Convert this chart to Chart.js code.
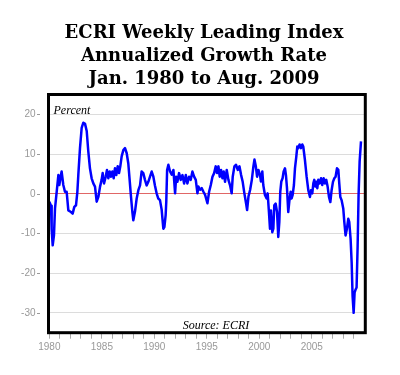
<!DOCTYPE html>
<html>
<head>
<meta charset="utf-8">
<script src="https://cdn.jsdelivr.net/npm/chart.js@4.4.0/dist/chart.umd.min.js"></script>
<style>
  body { margin: 0; background: #fff; }
</style>
</head>
<body>
<canvas id="ecriChart" width="400" height="375"></canvas>
<script>
// ECRI weekly leading index, annualized growth (%)
const years = [
  1980.00, 1980.06, 1980.16, 1980.22, 1980.32, 1980.44, 1980.54, 1980.70, 1980.86, 1980.95,
  1981.05, 1981.17, 1981.33, 1981.49, 1981.65, 1981.81, 1982.06, 1982.22, 1982.38, 1982.54,
  1982.67, 1982.76, 1982.92, 1983.08, 1983.24, 1983.40, 1983.56, 1983.71, 1983.87, 1984.03,
  1984.19, 1984.35, 1984.51, 1984.67, 1984.83, 1984.98, 1985.08, 1985.21, 1985.37, 1985.49,
  1985.62, 1985.75, 1985.87, 1986.00, 1986.13, 1986.25, 1986.38, 1986.51, 1986.64, 1986.76,
  1986.89, 1987.05, 1987.21, 1987.37, 1987.52, 1987.65, 1987.78, 1987.91, 1988.00, 1988.16,
  1988.32, 1988.48, 1988.64, 1988.79, 1988.95, 1989.11, 1989.27, 1989.43, 1989.59, 1989.75,
  1989.91, 1990.06, 1990.22, 1990.38, 1990.54, 1990.70, 1990.86, 1990.96, 1991.08, 1991.14,
  1991.22, 1991.34, 1991.50, 1991.66, 1991.82, 1991.98, 1992.08, 1992.20, 1992.36, 1992.52,
  1992.68, 1992.84, 1993.00, 1993.15, 1993.31, 1993.47, 1993.63, 1993.79, 1993.95, 1994.11,
  1994.20, 1994.36, 1994.52, 1994.68, 1994.84, 1995.06, 1995.22, 1995.38, 1995.54, 1995.70,
  1995.85, 1995.98, 1996.11, 1996.23, 1996.36, 1996.49, 1996.61, 1996.74, 1996.90, 1997.06,
  1997.21, 1997.37, 1997.47, 1997.63, 1997.79, 1997.95, 1998.11, 1998.27, 1998.42, 1998.58,
  1998.74, 1998.84, 1998.97, 1999.13, 1999.29, 1999.44, 1999.54, 1999.67, 1999.79, 1999.92,
  2000.07, 2000.16, 2000.29, 2000.38, 2000.54, 2000.70, 2000.80, 2000.92, 2001.02, 2001.11,
  2001.24, 2001.34, 2001.43, 2001.56, 2001.69, 2001.81, 2001.91, 2002.00, 2002.10, 2002.22,
  2002.32, 2002.45, 2002.54, 2002.64, 2002.76, 2002.86, 2002.99, 2003.08, 2003.18, 2003.30,
  2003.40, 2003.53, 2003.62, 2003.72, 2003.84, 2003.97, 2004.10, 2004.19, 2004.35, 2004.51,
  2004.67, 2004.83, 2004.92, 2005.05, 2005.15, 2005.24, 2005.34, 2005.43, 2005.53, 2005.62,
  2005.75, 2005.88, 2006.00, 2006.13, 2006.26, 2006.38, 2006.51, 2006.64, 2006.77, 2006.89,
  2007.02, 2007.15, 2007.27, 2007.40, 2007.53, 2007.62, 2007.72, 2007.84, 2008.00, 2008.10,
  2008.22, 2008.35, 2008.48, 2008.57, 2008.70, 2008.80, 2008.89, 2008.99, 2009.08, 2009.18,
  2009.27, 2009.37, 2009.46, 2009.56, 2009.69
];
const growth = [
  -2, -2, -3, -9, -13, -10.5, -3.7, 0.5, 4.7, 2.2,
  3.9, 5.6, 2.2, 0.5, 0.5, -4.2, -4.6, -5, -3.3, -2.9,
  0.5, 4.7, 11.5, 16.6, 17.9, 17.6, 15.8, 10.7, 6.4, 3.9,
  2.6, 1.8, -2.0, -0.8, 1.8, 3.5, 5.2, 2.6, 4.3, 6.0,
  3.9, 5.6, 4.3, 5.6, 3.9, 6.4, 4.7, 6.9, 5.2, 6.9,
  9.4, 11.0, 11.5, 10.2, 7.7, 3.5, -0.8, -4.6, -6.7, -4.5,
  -1.2, 0.9, 2.1, 5.6, 5.2, 3.5, 2.1, 3.0, 4.3, 5.6,
  4.3, 2.1, 0.1, -1.2, -1.6, -4.0, -8.8, -8.4, -5.4, -2.0,
  6.0, 7.3, 5.6, 4.8, 6.0, 0.1, 4.3, 3.0, 5.2, 3.5,
  4.7, 2.6, 4.7, 2.6, 4.3, 3.5, 5.6, 4.3, 3.5, 0.1,
  1.8, 1.0, 1.4, 0.5, -0.3, -2.4, 0.5, 2.2, 4.3, 5.2,
  6.9, 5.2, 6.9, 4.3, 6.0, 3.9, 5.6, 3.0, 6.0, 3.5,
  2.2, 0.1, 4.3, 6.9, 7.3, 6.0, 6.9, 4.7, 3.0, 0.1,
  -2.4, -4.1, -0.7, 1.0, 3.5, 6.9, 8.6, 6.9, 4.3, 6.0,
  4.7, 3.1, 5.6, 2.2, -0.3, -1.2, 0.1, -4.6, -8.8, -4.2,
  -9.7, -8.8, -2.9, -2.5, -4.6, -10.9, -7.1, 0.5, 3.1, 3.9,
  5.6, 6.4, 4.7, 1.4, -4.6, -2, 0.5, -1.2, -0.3, 2.2,
  6.4, 9.4, 11.9, 11.5, 12.4, 11.5, 12.4, 11.9, 8.5, 4.3,
  0.9, -0.8, 0.9, 0.1, 2.6, 3.5, 1.8, 3.0, 1.4, 3.5,
  2.6, 3.9, 2.2, 3.9, 2.6, 3.5, 1.8, -0.8, -2.1, 0.9,
  3.0, 3.9, 4.3, 6.4, 6.0, 2.6, -0.8, -1.6, -3.7, -7.1,
  -10.5, -8.8, -6.3, -7.1, -11.4, -17.3, -25.8, -30, -24.9, -24.1,
  -23.6, -13.1, -0.3, 8.1, 13.2
];

const yTicks = [-30, -20, -10, 0, 10, 20];
const xTickYears = [];
for (let y = 1980; y <= 2009; y++) xTickYears.push(y);

const titleLines = ['ECRI Weekly Leading Index', 'Annualized Growth Rate', 'Jan. 1980 to Aug. 2009'];
const unitLabel = 'Percent';
const sourceLabel = 'Source: ECRI';

// title, frame, little y tick dashes and the two italic notes
const framePlugin = {
  id: 'frame',
  afterDatasetsDraw(chart) {
    const { ctx, chartArea: a, scales } = chart;
    ctx.save();
    ctx.fillStyle = '#000';
    ctx.font = 'bold 18px "DejaVu Serif"';
    ctx.textAlign = 'center';
    ctx.textBaseline = 'alphabetic';
    [37.5, 61, 84].forEach((by, i) => ctx.fillText(titleLines[i], 204, by));

    ctx.strokeStyle = '#999';
    ctx.lineWidth = 1;
    yTicks.forEach(v => {
      const py = Math.round(scales.y.getPixelForValue(v)) + 0.5;
      ctx.beginPath();
      ctx.moveTo(37, py);
      ctx.lineTo(40, py);
      ctx.stroke();
    });
    ctx.strokeStyle = '#000';
    ctx.lineWidth = 3;
    ctx.strokeRect(a.left, a.top, a.right - a.left, a.bottom - a.top);

    ctx.font = 'italic 12px "Liberation Serif"';
    ctx.textBaseline = 'middle';
    ctx.textAlign = 'left';
    ctx.fillText(unitLabel, a.left + 5, a.top + 16);
    ctx.textAlign = 'center';
    ctx.fillText(sourceLabel, 216, a.bottom - 7);
    ctx.restore();
  }
};

new Chart(document.getElementById('ecriChart'), {
  type: 'line',
  data: {
    datasets: [{
      data: years.map((x, i) => ({ x: x, y: growth[i] })),
      borderColor: '#0000ff',
      borderWidth: 2.5,
      borderJoinStyle: 'round',
      pointRadius: 0,
      tension: 0,
      fill: false
    }]
  },
  options: {
    responsive: false,
    animation: false,
    layout: { padding: { left: 0, right: 34.7, top: 94.5, bottom: 0 } },
    plugins: {
      legend: { display: false },
      tooltip: { enabled: false },
      title: { display: false }
    },
    scales: {
      x: {
        type: 'linear',
        min: 1979.92,
        max: 2010.1,
        afterBuildTicks: s => { s.ticks = xTickYears.map(v => ({ value: v })); },
        afterFit: s => { s.height = 42.3; },
        ticks: {
          autoSkip: false,
          maxRotation: 0,
          padding: 3,
          color: '#999',
          font: { family: '"Liberation Sans"', size: 10 },
          callback: v => (Math.round(v) % 5 === 0 ? String(Math.round(v)) : '')
        },
        grid: { drawOnChartArea: false, tickLength: 6, tickColor: '#aaa' },
        border: { display: false }
      },
      y: {
        min: -35,
        max: 25,
        afterBuildTicks: s => { s.ticks = yTicks.map(v => ({ value: v })); },
        afterFit: s => { s.width = 48.5; },
        ticks: {
          padding: 13,
          color: '#999',
          font: { family: '"Liberation Sans"', size: 10 }
        },
        grid: {
          drawTicks: false,
          color: c => (c.tick && c.tick.value === 0 ? '#e06666' : '#dcdcdc'),
          lineWidth: 1
        },
        border: { display: false }
      }
    }
  },
  plugins: [framePlugin]
});
</script>
</body>
</html>
